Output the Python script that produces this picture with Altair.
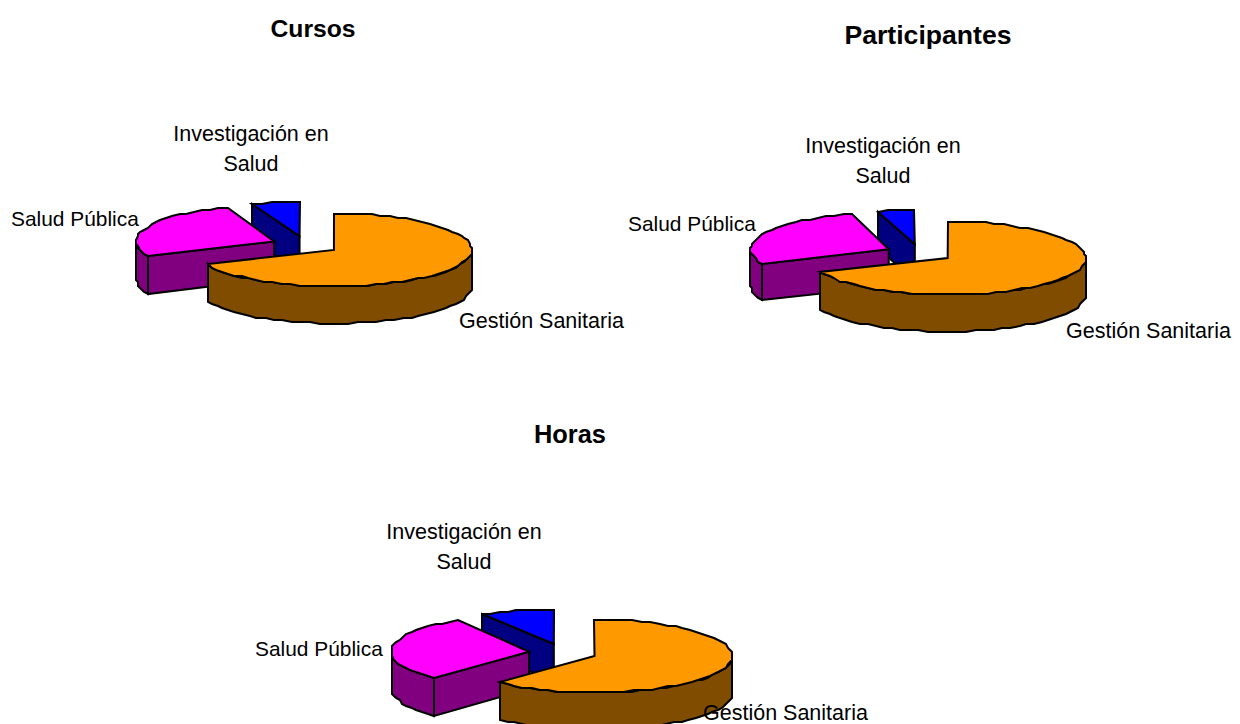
import math
import altair as alt

# ---- values (share of each total, %) ----
categories = ["Gestión Sanitaria", "Salud Pública", "Investigación en\nSalud"]
cursos = [68.3, 26.2, 5.5]
participantes = [68.6, 27.2, 4.2]
horas = [62.0, 29.4, 8.6]
pie_titles = ["Cursos", "Participantes", "Horas"]

# ---- layout and style ----
W, H = 1224, 716
PAGE = 8
RX, RY, DEPTH, EXPLODE = 138, 36.5, 37, 34
RY_SCALE = [1.0, 1.0, 0.94]
STEP, GRID = 4, 2.0
CENTRES = [(305.4, 245.0), (919.3, 253.1), (562.9, 652.7)]
TITLE_POS = [(313, 37), (928, 44), (570, 443)]
TITLE_SIZES = [24.7, 26.6, 25.4]
LABEL_POS = [
    [(459, 328), (11, 226), (251, 141)],
    [(1066, 338), (628, 231), (883, 153)],
    [(703, 720), (255, 656), (464, 539)],
]
LABEL_SIZES = [21.5, 20.9, 21.5]
TOP_COLOURS = ["#FF9900", "#FF00FF", "#0000FF"]
WALL_COLOURS = ["#804D00", "#800080", "#000080"]
FONT = "Liberation Sans"


def snap(v):
    return round(v / GRID) * GRID


def rim(c, off, deg, drop=0.0, ry=RY):
    a = math.radians(deg)
    return [snap(c[0] + off[0] + RX * math.sin(a)),
            snap(c[1] + off[1] - ry * math.cos(a) + drop)]


def sweep(a0, a1):
    n = max(1, int(math.ceil((a1 - a0) / STEP)))
    return [a0 + (a1 - a0) * i / n for i in range(n + 1)]


def feature(ring, part):
    ring = ring + [ring[0]]
    return {"type": "Feature", "properties": {"part": part},
            "geometry": {"type": "Polygon", "coordinates": [ring]}}


def slices(centre, values):
    """Exploded 3-D pie, back slices first so that front ones cover them."""
    centre = (centre[0] - PAGE, centre[1] - PAGE)
    total = sum(values)
    out, a = [], 0.0
    spans = []
    for i, v in enumerate(values):
        spans.append((i, a, a + v / total * 360))
        a += v / total * 360
    for i, a0, a1 in reversed(spans):
        mid = math.radians((a0 + a1) / 2)
        off = (EXPLODE * math.sin(mid), -EXPLODE * RY / RX * math.cos(mid))
        apex = [centre[0] + off[0], centre[1] + off[1]]
        ry = RY * RY_SCALE[i]
        wall, top = f"wall{i}", f"top{i}"
        # radial walls that face the viewer
        for edge, seen in ((a0, math.sin(math.radians(a0)) < -1e-6),
                           (a1, math.sin(math.radians(a1)) > 1e-6)):
            if seen:
                out.append(feature([apex, rim(centre, off, edge, 0.0, ry),
                                    rim(centre, off, edge, DEPTH, ry),
                                    [apex[0], apex[1] + DEPTH]], wall))
        # outer wall: the part of the rim on the near side
        lo, hi = max(a0, 90.0), min(a1, 270.0)
        if hi > lo:
            angles = sweep(lo, hi)
            out.append(feature([rim(centre, off, t, 0.0, ry) for t in angles]
                               + [rim(centre, off, t, DEPTH, ry) for t in reversed(angles)], wall))
        out.append(feature([apex] + [rim(centre, off, t, 0.0, ry) for t in sweep(a0, a1)], top))
    return out


features = []
for c, vals in zip(CENTRES, [cursos, participantes, horas]):
    features += slices(c, vals)

domain = [f"top{i}" for i in range(3)] + [f"wall{i}" for i in range(3)]
shades = TOP_COLOURS + WALL_COLOURS

pies = (
    alt.Chart(alt.Data(values=features))
    .mark_geoshape(stroke="black", strokeWidth=2, strokeJoin="miter", clip=True)
    .encode(fill=alt.Fill("properties.part:N", scale=alt.Scale(domain=domain, range=shades), legend=None))
    .project(type="identity", scale=1, translate=[0, 0])
)

title_rows = [{"t": t, "px": p[0] - PAGE, "py": p[1] - PAGE, "fs": s}
              for t, p, s in zip(pie_titles, TITLE_POS, TITLE_SIZES)]
titles = alt.Chart(alt.Data(values=title_rows)).mark_text(
    font=FONT, fontWeight="bold", align="center", baseline="alphabetic", color="black"
).encode(text="t:N", x=alt.X("px:Q", scale=None), y=alt.Y("py:Q", scale=None),
         size=alt.Size("fs:Q", scale=None, legend=None))

label_rows = []
for row in LABEL_POS:
    for cat, p, s in zip(categories, row, LABEL_SIZES):
        label_rows.append({"t": cat, "px": p[0] - PAGE, "py": p[1] - PAGE, "fs": s,
                           "al": "center" if "\n" in cat else "left"})


def label_layer(al):
    rows = [r for r in label_rows if r["al"] == al]
    return alt.Chart(alt.Data(values=rows)).mark_text(
        font=FONT, align=al, baseline="alphabetic", color="black",
        lineBreak="\n", lineHeight=30
    ).encode(text="t:N", x=alt.X("px:Q", scale=None), y=alt.Y("py:Q", scale=None),
             size=alt.Size("fs:Q", scale=None, legend=None))


chart = (
    alt.layer(pies, titles, label_layer("left"), label_layer("center"))
    .properties(width=W, height=H, padding=0, background="white",
                autosize=alt.AutoSizeParams(type="none"))
    .configure_view(stroke=None, strokeWidth=0)
)
chart.save("out.html", embed_options={"renderer": "svg", "actions": False})
